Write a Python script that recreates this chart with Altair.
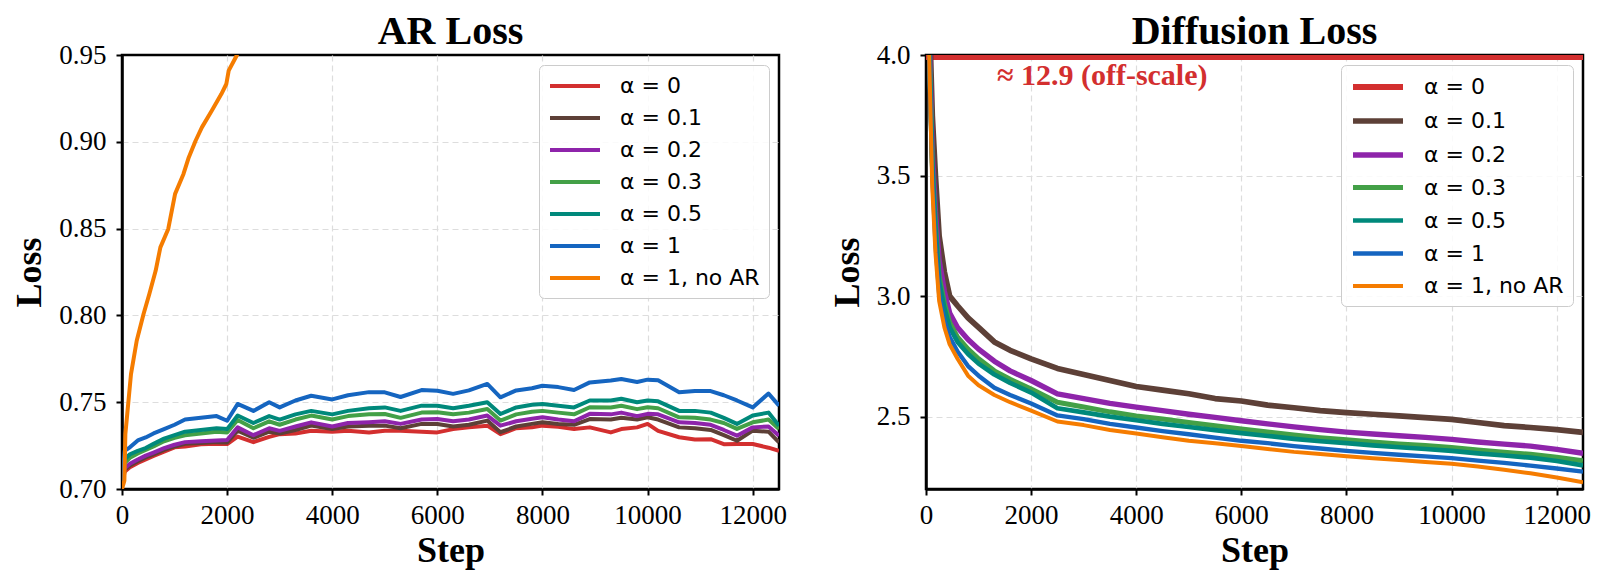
import altair as alt
import pandas as pd

# ---------------- data ----------------
labels = ["α = 0", "α = 0.1", "α = 0.2", "α = 0.3", "α = 0.5", "α = 1", "α = 1, no AR"]
colors = ["#d32f2f", "#5d4037", "#8e24aa", "#43a047", "#00897b", "#1565c0", "#f57c00"]

# AR loss (left panel)
ar_steps = [0, 50, 150, 300, 450, 600, 800, 1000, 1200, 1500, 1800, 2000, 2200, 2500, 2800,
            3000, 3300, 3600, 4000, 4300, 4700, 5000, 5300, 5700, 6000, 6300, 6600, 6950,
            7200, 7500, 7800, 8000, 8300, 8600, 8900, 9300, 9500, 9800, 10000, 10200, 10600,
            10900, 11200, 11450, 11700, 12000, 12300, 12500]
ar_a0 = [0.702, 0.710, 0.7125, 0.715, 0.717, 0.719, 0.7215, 0.724, 0.7245, 0.7258, 0.726, 0.7259,
         0.7302, 0.727, 0.730, 0.7316, 0.732, 0.7336, 0.733, 0.7335, 0.7326, 0.7336, 0.7335,
         0.733, 0.7326, 0.7345, 0.7355, 0.7365, 0.7316, 0.735, 0.7355, 0.7365, 0.7358, 0.7345,
         0.7355, 0.7326, 0.7345, 0.7355, 0.7375, 0.7335, 0.7298, 0.7285, 0.7287, 0.7258,
         0.7259, 0.7259, 0.7238, 0.722]
ar_a01 = [0.702, 0.711, 0.7135, 0.716, 0.7182, 0.720, 0.7225, 0.7245, 0.726, 0.7265, 0.727,
          0.7268, 0.7336, 0.7295, 0.733, 0.732, 0.734, 0.7365, 0.7345, 0.736, 0.7365, 0.7365,
          0.735, 0.7375, 0.7374, 0.736, 0.737, 0.7394, 0.7327, 0.736, 0.7375, 0.7384, 0.7375,
          0.737, 0.7403, 0.740, 0.741, 0.740, 0.7413, 0.740, 0.7355, 0.735, 0.734, 0.731,
          0.7278, 0.7336, 0.733, 0.7269]
ar_a02 = [0.702, 0.712, 0.7145, 0.717, 0.7192, 0.721, 0.7235, 0.7255, 0.727, 0.7275, 0.728,
          0.7282, 0.7355, 0.731, 0.735, 0.7335, 0.736, 0.7384, 0.736, 0.738, 0.7385, 0.739,
          0.7375, 0.740, 0.7403, 0.739, 0.740, 0.7423, 0.7365, 0.739, 0.7405, 0.7413, 0.740,
          0.739, 0.7433, 0.743, 0.744, 0.742, 0.7433, 0.743, 0.7384, 0.738, 0.737, 0.734,
          0.7307, 0.7355, 0.736, 0.7307]
ar_a03 = [0.702, 0.715, 0.718, 0.7205, 0.7225, 0.7245, 0.7275, 0.7295, 0.731, 0.732, 0.733,
          0.7326, 0.7398, 0.735, 0.739, 0.737, 0.740, 0.7423, 0.740, 0.742, 0.743, 0.7432,
          0.741, 0.744, 0.7442, 0.743, 0.744, 0.7461, 0.7394, 0.743, 0.7445, 0.745, 0.744,
          0.743, 0.7471, 0.747, 0.748, 0.746, 0.7471, 0.7465, 0.7413, 0.741, 0.740, 0.738,
          0.7346, 0.7384, 0.740, 0.7346]
ar_a05 = [0.702, 0.717, 0.720, 0.722, 0.7236, 0.726, 0.729, 0.731, 0.733, 0.734, 0.735, 0.7345,
          0.7423, 0.738, 0.742, 0.740, 0.743, 0.745, 0.743, 0.745, 0.7465, 0.747, 0.745, 0.748,
          0.748, 0.7465, 0.748, 0.750, 0.7432, 0.747, 0.7485, 0.749, 0.748, 0.747, 0.751, 0.751,
          0.752, 0.750, 0.751, 0.7505, 0.745, 0.745, 0.744, 0.741, 0.7375, 0.7423, 0.744, 0.7365]
ar_a1 = [0.702, 0.722, 0.724, 0.728, 0.7297, 0.732, 0.7345, 0.737, 0.740, 0.741, 0.742, 0.7393,
         0.749, 0.745, 0.750, 0.747, 0.751, 0.7537, 0.7516, 0.754, 0.7558, 0.7557, 0.753, 0.757,
         0.7566, 0.7548, 0.7568, 0.7605, 0.7528, 0.7568, 0.758, 0.7595, 0.7587, 0.757, 0.7614,
         0.7625, 0.7634, 0.7616, 0.7630, 0.7626, 0.7557, 0.7564, 0.7564, 0.754, 0.751, 0.747,
         0.755, 0.748]
ar_noar_steps = [0, 45, 64, 171, 280, 410, 520, 640, 730, 880, 1010, 1170, 1270, 1400, 1520,
                 1710, 1890, 1985, 2030, 2180, 2400]
ar_noar = [0.700, 0.7048, 0.7317, 0.7662, 0.7854, 0.8008, 0.8123, 0.8257, 0.8392, 0.8498, 0.870,
           0.8815, 0.891, 0.9006, 0.9083, 0.918, 0.9275, 0.9333, 0.941, 0.9496, 0.966]

# Diffusion loss (right panel); alpha = 0 sits at ~12.9, drawn at the top edge
diff_steps = [0, 60, 120, 180, 250, 350, 450, 600, 800, 1000, 1300, 1600, 2000, 2500,
              3000, 3500, 4000, 4500, 5000, 5500, 6000, 6500, 7000, 7500, 8000, 8500, 9000,
              9500, 10000, 10500, 11000, 11500, 12000, 12500]
diff_a0_steps = [0, 12500]
diff_a0 = [3.992, 3.992]
diff_a01 = [5.0, 4.2, 3.75, 3.5, 3.25, 3.10, 3.00, 2.96, 2.91, 2.87, 2.81, 2.775, 2.74, 2.70,
            2.675, 2.65, 2.625, 2.61, 2.595, 2.575, 2.565, 2.548, 2.537, 2.525, 2.517, 2.51,
            2.503, 2.496, 2.489, 2.476, 2.463, 2.455, 2.446, 2.435]
diff_a02 = [5.0, 4.1, 3.6, 3.35, 3.15, 3.02, 2.93, 2.87, 2.82, 2.78, 2.73, 2.69, 2.65, 2.595,
            2.575, 2.555, 2.54, 2.525, 2.51, 2.497, 2.483, 2.47, 2.458, 2.446, 2.436, 2.428,
            2.421, 2.414, 2.406, 2.395, 2.386, 2.378, 2.364, 2.348]
diff_a03 = [5.0, 4.05, 3.55, 3.3, 3.08, 2.97, 2.89, 2.83, 2.78, 2.74, 2.69, 2.655, 2.615, 2.56,
            2.54, 2.52, 2.503, 2.49, 2.476, 2.462, 2.449, 2.436, 2.424, 2.413, 2.404, 2.395,
            2.387, 2.38, 2.372, 2.362, 2.352, 2.344, 2.332, 2.317]
diff_a05 = [5.0, 4.05, 3.55, 3.28, 3.06, 2.95, 2.87, 2.81, 2.76, 2.72, 2.675, 2.64, 2.60, 2.535,
            2.518, 2.50, 2.485, 2.47, 2.457, 2.444, 2.432, 2.42, 2.408, 2.398, 2.39, 2.381,
            2.373, 2.366, 2.358, 2.348, 2.339, 2.33, 2.316, 2.298]
diff_a1 = [5.0, 4.0, 3.5, 3.22, 3.01, 2.90, 2.83, 2.77, 2.71, 2.67, 2.62, 2.59, 2.555, 2.505,
           2.49, 2.47, 2.455, 2.44, 2.427, 2.413, 2.40, 2.39, 2.378, 2.368, 2.358, 2.35, 2.342,
           2.335, 2.328, 2.318, 2.308, 2.297, 2.285, 2.272]
diff_noar = [5.0, 4.0, 3.45, 3.18, 2.98, 2.87, 2.80, 2.74, 2.67, 2.63, 2.59, 2.56, 2.525, 2.48,
             2.465, 2.445, 2.43, 2.415, 2.40, 2.39, 2.378, 2.366, 2.354, 2.345, 2.336, 2.328,
             2.32, 2.312, 2.305, 2.293, 2.28, 2.265, 2.248, 2.228]

note_text = ["≈  12.9 (off-scale)"]
note_step = [1350]
note_loss = [3.912]

x_ticks = [0, 2000, 4000, 6000, 8000, 10000, 12000]
ar_ticks = [0.70, 0.75, 0.80, 0.85, 0.90, 0.95]
diff_ticks = [2.5, 3.0, 3.5, 4.0]

# ---------------- frames ----------------
def frame(steps_list, vals_list):
    rows = []
    for lab, st, vs in zip(labels, steps_list, vals_list):
        for s, v in zip(st, vs):
            rows.append({"step": s, "loss": v, "series": lab})
    return pd.DataFrame(rows)

ar_df = frame([ar_steps] * 6 + [ar_noar_steps],
              [ar_a0, ar_a01, ar_a02, ar_a03, ar_a05, ar_a1, ar_noar])
diff_df = frame([diff_a0_steps] + [diff_steps] * 6,
                [diff_a0, diff_a01, diff_a02, diff_a03, diff_a05, diff_a1, diff_noar])
note_df = pd.DataFrame({"step": note_step, "loss": note_loss, "label": note_text})

W, H = 657, 434
SYM = "M-1,0H4"

def legend(sw=4):
    return alt.Legend(title=None, orient="top-right", offset=10, padding=9,
                      fillColor="rgba(255,255,255,0.85)", strokeColor="#cccccc",
                      cornerRadius=5, labelFont="DejaVu Sans", labelFontSize=22,
                      labelColor="black", symbolType=SYM, symbolSize=400,
                      symbolStrokeWidth=sw, labelOffset=48, rowPadding=9)

xenc = alt.X("step:Q", scale=alt.Scale(domain=[0, 12500], nice=False, zero=False),
             axis=alt.Axis(values=x_ticks, format="d", title="Step", labelFlush=False,
                           labelOverlap=False,
                           gridOpacity=alt.condition("datum.value <= 0", alt.value(0), alt.value(1))))

left = alt.Chart(ar_df).mark_line(clip=True, strokeWidth=4, strokeJoin="round").encode(
    x=xenc,
    y=alt.Y("loss:Q", scale=alt.Scale(domain=[0.70, 0.95], nice=False, zero=False),
            axis=alt.Axis(values=ar_ticks, format=".2f", title="Loss", labelOverlap=False,
                          gridOpacity=alt.condition("datum.value >= 0.949 || datum.value <= 0.701",
                                                    alt.value(0), alt.value(1)))),
    color=alt.Color("series:N", scale=alt.Scale(domain=labels, range=colors), legend=legend()),
).properties(width=W, height=H, title=alt.TitleParams("AR Loss"))

lines_r = alt.Chart(diff_df).mark_line(clip=True, strokeJoin="round").encode(
    x=xenc,
    y=alt.Y("loss:Q", scale=alt.Scale(domain=[2.2, 4.0], nice=False, zero=False),
            axis=alt.Axis(values=diff_ticks, format=".1f", title="Loss", labelOverlap=False,
                          gridOpacity=alt.condition("datum.value >= 3.99",
                                                    alt.value(0), alt.value(1)))),
    color=alt.Color("series:N", scale=alt.Scale(domain=labels, range=colors), legend=legend()),
    strokeWidth=alt.StrokeWidth("series:N",
                                scale=alt.Scale(domain=labels, range=[6, 4, 4, 4, 4, 4, 4]),
                                legend=legend()),
)
note = alt.Chart(note_df).mark_text(align="left", baseline="middle", font="Liberation Serif",
                                    fontSize=30, fontWeight="bold", color="#d32f2f").encode(
    x="step:Q", y="loss:Q", text="label:N")
right = alt.layer(lines_r, note).properties(width=W, height=H,
                                            title=alt.TitleParams("Diffusion Loss"))

chart = alt.hconcat(left, right, spacing=40).resolve_scale(
    color="independent", strokeWidth="independent"
).properties(
    padding={"left": 2, "top": 2, "right": 2, "bottom": 2}
).configure_view(stroke="black", strokeWidth=2.5).configure_axis(
    domainColor="black", domainWidth=2.5, tickColor="black", tickWidth=2, tickSize=6,
    labelFont="Liberation Serif", labelFontSize=27, labelColor="black",
    titleFont="Liberation Serif", titleFontSize=36, titleFontWeight="bold", titleColor="black",
    gridColor="#dddddd", gridDash=[6, 4], gridWidth=1.2
).configure_axisX(labelPadding=7, titlePadding=5).configure_axisY(
    labelPadding=10, titlePadding=10
).configure_title(
    font="Liberation Serif", fontSize=40, fontWeight="bold", color="black",
    anchor="middle", frame="group", offset=-11, baseline="alphabetic"
)

chart.save("out.html", embed_options={"renderer": "svg", "actions": False})
